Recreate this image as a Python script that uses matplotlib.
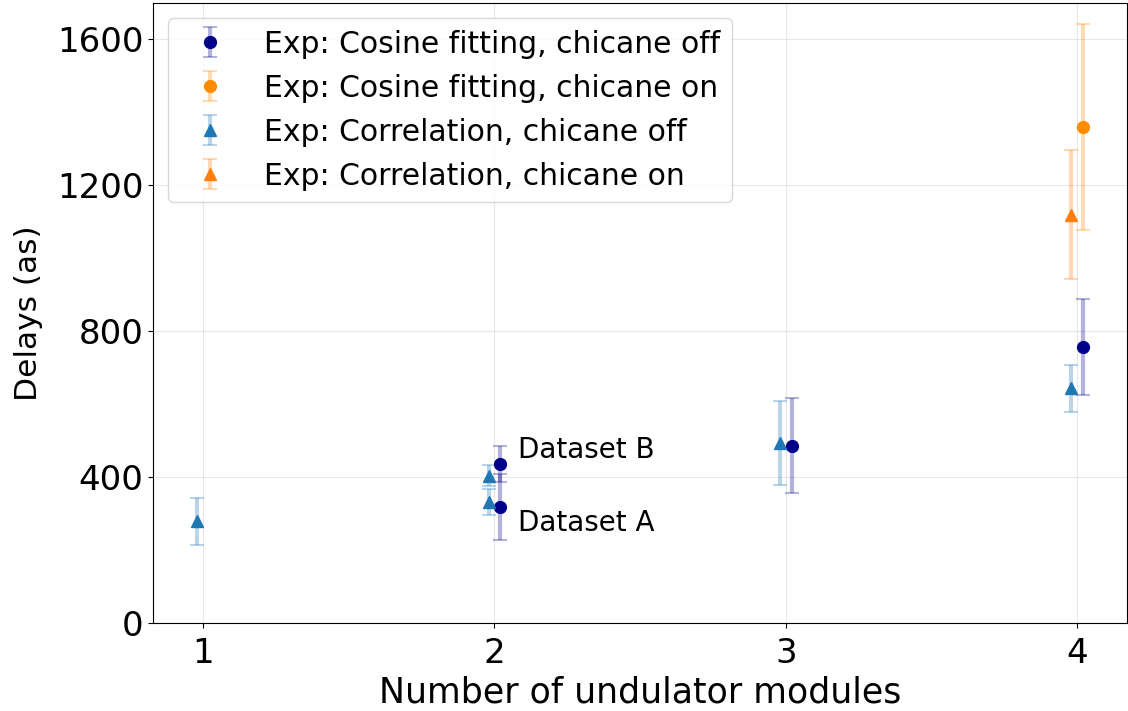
import matplotlib.pyplot as plt

# x positions (number of undulator modules)
cos_off_x = [2, 2, 3, 4]
cos_off_y = [318, 435, 486, 757]
cos_off_err = [90, 50, 130, 132]

cos_on_x = [4]
cos_on_y = [1360]
cos_on_err = [283]

corr_off_x = [1, 2, 2, 3, 4]
corr_off_y = [278, 332, 403, 492, 643]
corr_off_err = [65, 36, 29, 115, 65]

corr_on_x = [4]
corr_on_y = [1119]
corr_on_err = [177]

shift = 0.02

fig, ax = plt.subplots(figsize=(11.28, 7.11), dpi=100)

def eb(x, y, err, dx, fmt, color, label):
    c = ax.errorbar([v + dx for v in x], y, yerr=err, fmt=fmt, color=color,
                    ms=8.5, elinewidth=3, capsize=5, capthick=1.5, label=label)
    for part in c[1] + c[2]:
        part.set_alpha(0.3)
    return c

eb(cos_off_x, cos_off_y, cos_off_err, shift, "o", "darkblue", "Exp: Cosine fitting, chicane off")
eb(cos_on_x, cos_on_y, cos_on_err, shift, "o", "darkorange", "Exp: Cosine fitting, chicane on")
eb(corr_off_x, corr_off_y, corr_off_err, -shift, "^", "tab:blue", "Exp: Correlation, chicane off")
eb(corr_on_x, corr_on_y, corr_on_err, -shift, "^", "tab:orange", "Exp: Correlation, chicane on")

ax.text(2.08, cos_off_y[1] + 40, "Dataset B", fontsize=20, va="center")
ax.text(2.08, cos_off_y[0] - 44, "Dataset A", fontsize=20, va="center")

ax.set_xlim(0.83, 4.17)
ax.set_ylim(0, 1700)
ax.set_xticks([1, 2, 3, 4])
ax.set_yticks([0, 400, 800, 1200, 1600])
ax.tick_params(axis="both", labelsize=24.5)
ax.tick_params(axis="x", pad=7)
ax.set_xlabel("Number of undulator modules", fontsize=25, labelpad=3.5)
ax.set_ylabel("Delays (as)", fontsize=22.5, labelpad=10)
ax.grid(True, alpha=0.3)
ax.legend(fontsize=21.5, loc="upper left")

plt.subplots_adjust(left=0.136, right=0.999, top=0.996, bottom=0.124)
plt.savefig("out.png")
